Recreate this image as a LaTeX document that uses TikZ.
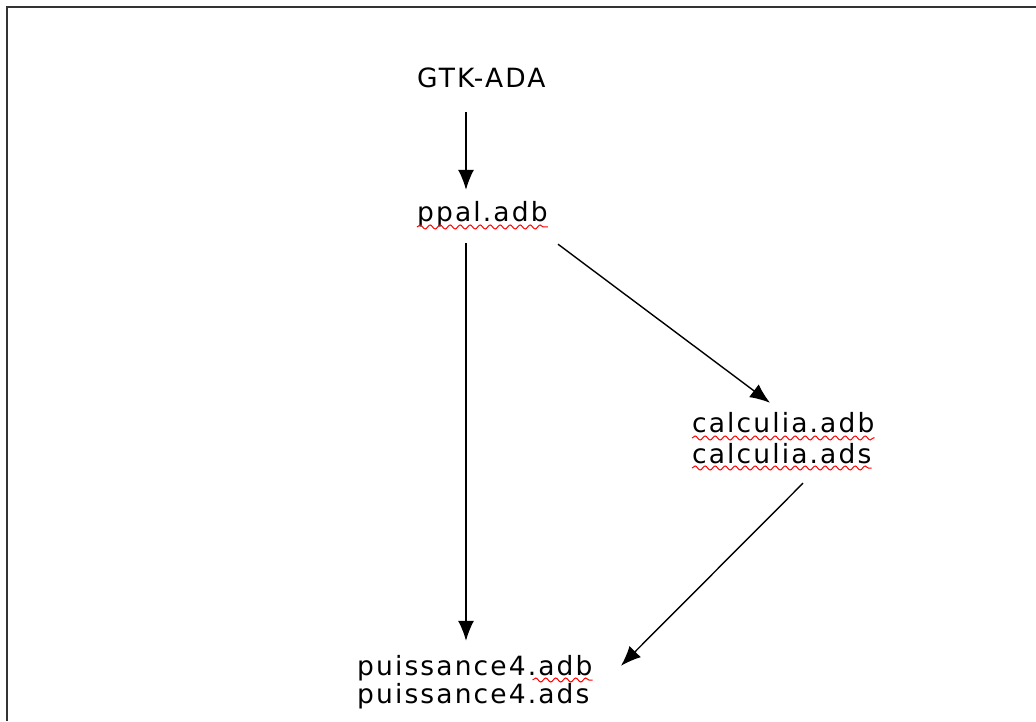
\documentclass[tikz,border=0pt]{standalone}
\usepackage{fontspec}
\newfontfamily\filefont[LetterSpace=8]{DejaVu Sans}
\usetikzlibrary{arrows.meta,decorations.pathmorphing}
\tikzset{
  file/.style={inner sep=0pt, anchor=base west, text height=19pt, text depth=6pt,
    font=\filefont\fontsize{26.5}{30}\selectfont},
  dep/.style={line width=1.4pt, -{Latex[length=20pt,width=16pt]}},
  spell/.style={red, line width=1pt, decorate,
    decoration={snake, segment length=10pt, amplitude=2pt}}
}
\begin{document}
\begin{tikzpicture}[x=1pt,y=1pt]
    \useasboundingbox (0,0) rectangle (1036,721);
    \draw[line width=2.6pt, black!80] (7,0) -- (7,714) -- (1036,714);

    % modules
    \node[file] (gtk) at (417,633) {GTK-ADA};
    \node[file] (ppal) at (417,499) {ppal.adb};
    \node[file] (calcb) at (692,288) {calculia.adb};
    \node[file] (calcs) at (692,258) {calculia.ads};
    \node[file] (puisb) at (357,46) {puissance4.adb};
    \node[file] (puiss) at (357,18) {puissance4.ads};

    % spell-check marks
    \draw[spell] ([yshift=-5pt]ppal.base west) -- ([yshift=-5pt]ppal.base east);
    \draw[spell] ([yshift=-5pt]calcb.base west) -- ([yshift=-5pt]calcb.base east);
    \draw[spell] ([yshift=-5pt]calcs.base west) -- ([yshift=-5pt]calcs.base east);
    \draw[spell] ([xshift=-60pt,yshift=-5pt]puisb.base east) -- ([yshift=-5pt]puisb.base east);

    % dependencies
    \draw[dep] ([xshift=49pt,yshift=-18pt]gtk.south west) -- ([xshift=49pt,yshift=13pt]ppal.north west);
    \draw[dep] ([xshift=49pt,yshift=-15pt]ppal.south west) -- ([xshift=109pt,yshift=15pt]puisb.north west);
    \draw[dep] ([shift={(141pt,-16pt)}]ppal.south west) -- ([shift={(78pt,11pt)}]calcb.north west);
    \draw[dep] ([shift={(111pt,-14pt)}]calcs.south west) -- ([shift={(264pt,-10pt)}]puisb.north west);
\end{tikzpicture}
\end{document}
